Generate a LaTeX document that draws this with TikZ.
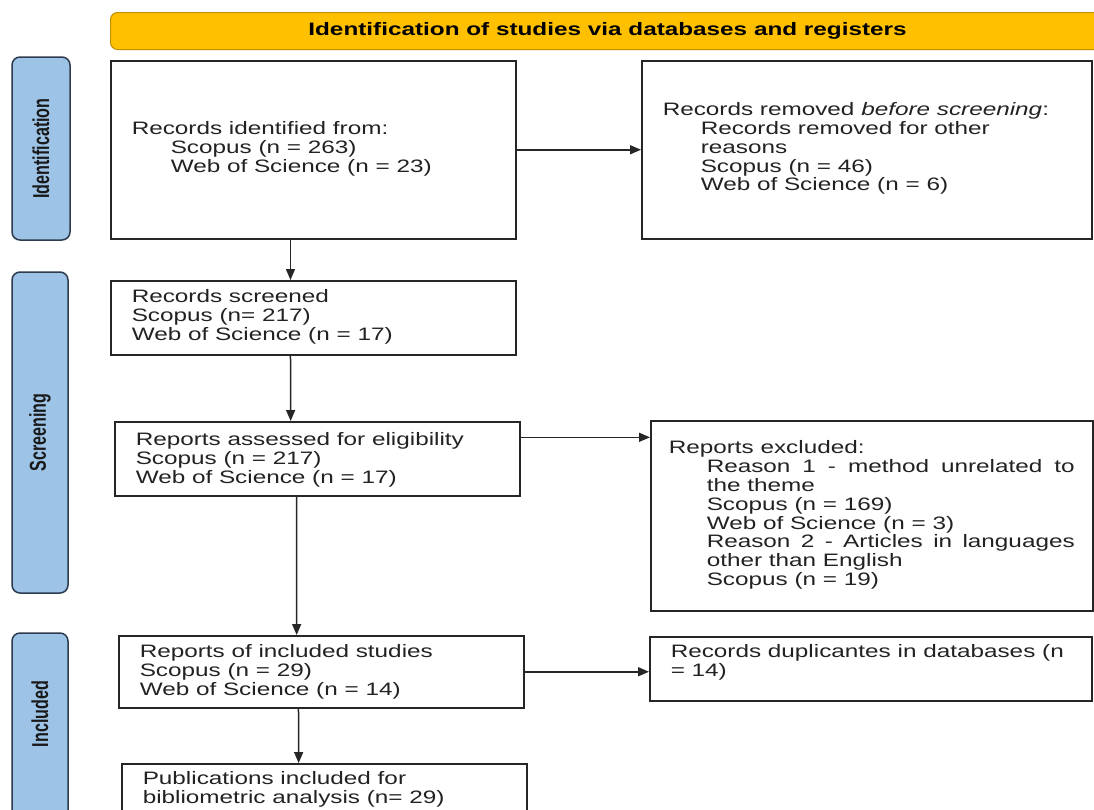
\documentclass[tikz,border=0pt]{standalone}
\usepackage{fontspec}
\setmainfont{Liberation Sans}[FakeStretch=1.35]
\newfontfamily\vlabfont{Liberation Sans}[FakeStretch=0.7]
\usetikzlibrary{arrows.meta,calc}
\definecolor{hdrfill}{HTML}{FFC000}
\definecolor{hdrdraw}{HTML}{BF9000}
\definecolor{labfill}{HTML}{9DC3E6}
\definecolor{labdraw}{HTML}{2E3B4E}
\definecolor{txt}{HTML}{222222}
\newcommand{\bxt}[4]{\begin{minipage}[c][#1pt][t]{#2pt}\vspace*{#3pt}#4\end{minipage}}
\begin{document}
\begin{tikzpicture}[x=1pt,y=-1pt,
  txtf/.style={font=\fontsize{18}{18.8}\selectfont, text=txt},
  flowbox/.style={draw=black!85, line width=1.5pt, fill=white, anchor=north west,
    inner ysep=0pt, inner xsep=21pt, txtf},
  phase/.style={draw=labdraw, fill=labfill, line width=1.5pt, rounded corners=8pt,
    rotate=90, inner sep=0pt, text=black!90,
    font=\vlabfont\bfseries\fontsize{23}{24}\selectfont},
  arr/.style={draw=black!85, line width=1.5pt, -{Triangle[length=11pt,width=9pt]}}]

\useasboundingbox (0,0) rectangle (1094,809);
\clip (0,0) rectangle (1094,809);
\fill[white] (0,0) rectangle (1094,809);

% header
\node[draw=hdrdraw, fill=hdrfill, line width=1pt, rounded corners=7pt,
  minimum width=994pt, minimum height=37pt, anchor=north west, inner sep=0pt,
  text=black, font=\bfseries\fontsize{18}{20}\selectfont] (hdr) at (110,12)
  {Identification of studies via databases and registers};

% phase labels
\node[phase, minimum width=183pt, minimum height=58pt] (pid) at (41,148.5) {Identification};
\node[phase, minimum width=321pt, minimum height=56pt] (psc) at (40,432.5) {Screening};
\node[phase, minimum width=190pt, minimum height=56pt] (pin) at (40,728) {\hspace*{28pt}Included};

% boxes
\node[flowbox] (b1) at (110,60) {\bxt{178}{363}{61}{Records identified from:\\
  \hspace*{39pt}Scopus (n = 263)\\
  \hspace*{39pt}Web of Science (n = 23)}};

\node[flowbox] (b2) at (641,60) {\bxt{178}{408}{42}{Records removed \textit{before screening}:\\
  \hspace*{38pt}Records removed for other\\
  \hspace*{38pt}reasons\\
  \hspace*{38pt}Scopus (n = 46)\\
  \hspace*{38pt}Web of Science (n = 6)}};

\node[flowbox] (b3) at (110,280) {\bxt{74}{363}{9}{Records screened\\
  Scopus (n= 217)\\
  Web of Science (n = 17)}};

\node[flowbox] (b4) at (114,421) {\bxt{74}{363}{11}{Reports assessed for eligibility\\
  Scopus (n = 217)\\
  Web of Science (n = 17)}};

\node[flowbox, inner xsep=18pt] (b5) at (650,420) {\bxt{190}{406}{20}{Reports excluded:\par
  {\leftskip=38pt \hyphenpenalty=10000 \exhyphenpenalty=10000 \tolerance=10000
  Reason 1 - method unrelated to\linebreak the theme\\
  Scopus (n = 169)\\
  Web of Science (n = 3)\\
  Reason 2 - Articles in languages\linebreak other than English\\
  Scopus (n = 19)\par}}};

\node[flowbox] (b6) at (118,635) {\bxt{72}{363}{9}{Reports of included studies\\
  Scopus (n = 29)\\
  Web of Science (n = 14)}};

\node[flowbox] (b7) at (121,763) {\bxt{60}{363}{8}{Publications included for\\
  bibliometric analysis (n= 29)}};

\node[flowbox] (b8) at (649,636) {\bxt{64}{400}{8}{Records duplicantes in databases (n\\
  = 14)}};

% connectors
\draw[arr] (b1.east) -- (b2.west);
\draw[arr] ($(b1.south west)!0.444!(b1.south east)$) -- ($(b3.north west)!0.444!(b3.north east)$);
\draw[arr] ($(b3.south west)!0.444!(b3.south east)$) -- ($(b4.north west)!0.4346!(b4.north east)$);
\coordinate (p45) at ($(b4.north east)!0.216!(b4.south east)$);
\draw[arr] (p45) -- (p45 -| b5.west);
\draw[arr] ($(b4.south west)!0.449!(b4.south east)$) -- ($(b6.north west)!0.4395!(b6.north east)$);
\draw[arr] ($(b6.south west)!0.444!(b6.south east)$) -- ($(b7.north west)!0.437!(b7.north east)$);
\draw[arr] (b6.east) -- (b6.east -| b8.west);
\end{tikzpicture}
\end{document}
